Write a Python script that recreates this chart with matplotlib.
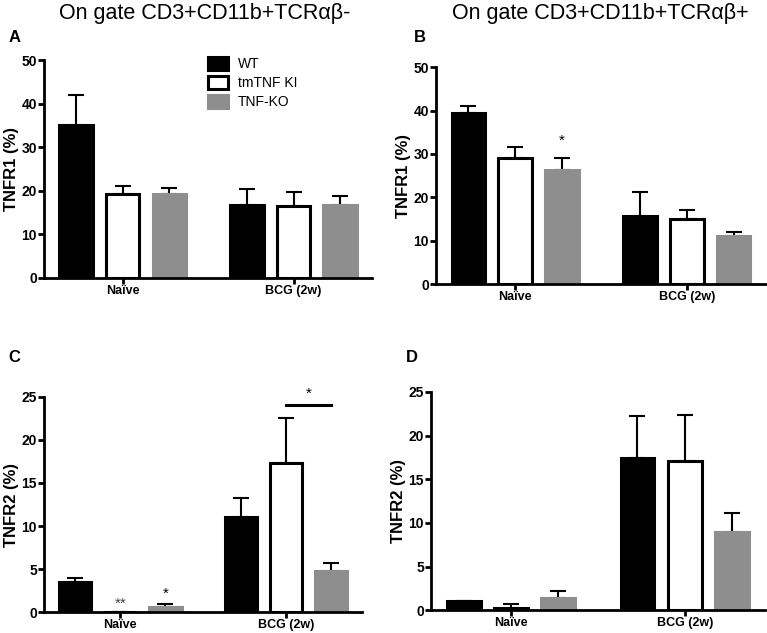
import numpy as np
import matplotlib.pyplot as plt

plt.rcParams['font.family'] = ['Liberation Sans', 'DejaVu Sans']

groups = ['Naïve', 'BCG (2w)']
genotypes = ['WT', 'tmTNF KI', 'TNF-KO']

# mean values per panel: rows = genotype, cols = group
a_mean = [[35.0, 16.8], [19.2, 16.5], [19.3, 16.7]]
a_err = [[7.0, 3.5], [2.0, 3.2], [1.4, 2.0]]
b_mean = [[39.5, 15.8], [29.0, 15.0], [26.3, 11.1]]
b_err = [[1.5, 5.5], [2.5, 2.0], [2.7, 1.0]]
c_mean = [[3.5, 11.0], [0.0, 17.3], [0.6, 4.8]]
c_err = [[0.5, 2.3], [0.0, 5.3], [0.4, 0.9]]
d_mean = [[1.0, 17.4], [0.3, 17.1], [1.35, 9.0]]
d_err = [[0.0, 4.8], [0.4, 5.2], [0.9, 2.1]]

face = ['black', 'white', '#8e8e8e']
edge = ['black', 'black', '#8e8e8e']
offsets = [-0.272, 0.0, 0.272]
width = 0.195


def panel(rect, mean, err, ylim, yticks, ylabel, letter, letter_xy):
    ax = fig.add_axes(rect)
    x = np.arange(len(groups))
    for i in range(3):
        ax.bar(x + offsets[i], mean[i], width, color=face[i], edgecolor=edge[i],
               linewidth=2.2, label=genotypes[i], zorder=2)
        yerr = np.array([np.zeros(2), err[i]])
        ax.errorbar(x + offsets[i], mean[i], yerr=yerr, fmt='none', ecolor='black',
                    elinewidth=1.5, capsize=6, capthick=1.5, zorder=1)
    ax.set_xlim(-0.46, 1.46)
    ax.set_ylim(*ylim)
    ax.set_yticks(yticks)
    ax.set_xticks(x)
    ax.set_xticklabels(groups, fontweight='bold', fontsize=9)
    for t in ax.get_yticklabels():
        t.set_fontweight('bold')
        t.set_fontsize(10)
    ax.set_ylabel(ylabel, fontweight='bold', fontsize=12, labelpad=2)
    for s in ['top', 'right']:
        ax.spines[s].set_visible(False)
    for s in ['left', 'bottom']:
        ax.spines[s].set_linewidth(2)
    ax.tick_params(width=2, length=4, pad=1)
    fig.text(letter_xy[0], letter_xy[1], letter, fontsize=12, fontweight='bold',
             ha='left', va='center')
    return ax


fig = plt.figure(figsize=(7.67, 6.33), dpi=100)

ax_a = panel([0.0574, 0.561, 0.428, 0.344], a_mean, a_err, (0, 50),
             [0, 10, 20, 30, 40, 50], 'TNFR1 (%)', 'A', (0.011, 0.94))
ax_b = panel([0.5685, 0.551, 0.430, 0.343], b_mean, b_err, (0, 50),
             [0, 10, 20, 30, 40, 50], 'TNFR1 (%)', 'B', (0.54, 0.94))
ax_c = panel([0.0574, 0.033, 0.415, 0.340], c_mean, c_err, (0, 25),
             [0, 5, 10, 15, 20, 25], 'TNFR2 (%)', 'C', (0.011, 0.436))
ax_d = panel([0.562, 0.036, 0.435, 0.345], d_mean, d_err, (0, 25),
             [0, 5, 10, 15, 20, 25], 'TNFR2 (%)', 'D', (0.529, 0.436))

# legend in panel A
ax_a.legend(loc='upper left', bbox_to_anchor=(0.46, 1.07), frameon=False,
            fontsize=10, handlelength=1.5, handleheight=1.0, labelspacing=0.35,
            handletextpad=0.7)

# significance marks
ax_b.text(0.272, 31.5, '*', ha='center', va='bottom', fontsize=11)
ax_c.text(0.0, 0.1, '**', ha='center', va='bottom', fontsize=11, color='#444444')
ax_c.text(0.272, 1.3, '*', ha='center', va='bottom', fontsize=11)
ax_c.plot([1.0, 1.272], [24.1, 24.1], color='black', lw=2.2, clip_on=False)
ax_c.text(1.136, 24.6, '*', ha='center', va='bottom', fontsize=11)

fig.text(0.267, 0.978, 'On gate CD3+CD11b+TCRαβ-', ha='center', va='center', fontsize=15.5)
fig.text(0.783, 0.978, 'On gate CD3+CD11b+TCRαβ+', ha='center', va='center', fontsize=15.5)

fig.savefig('out.png', dpi=100)
